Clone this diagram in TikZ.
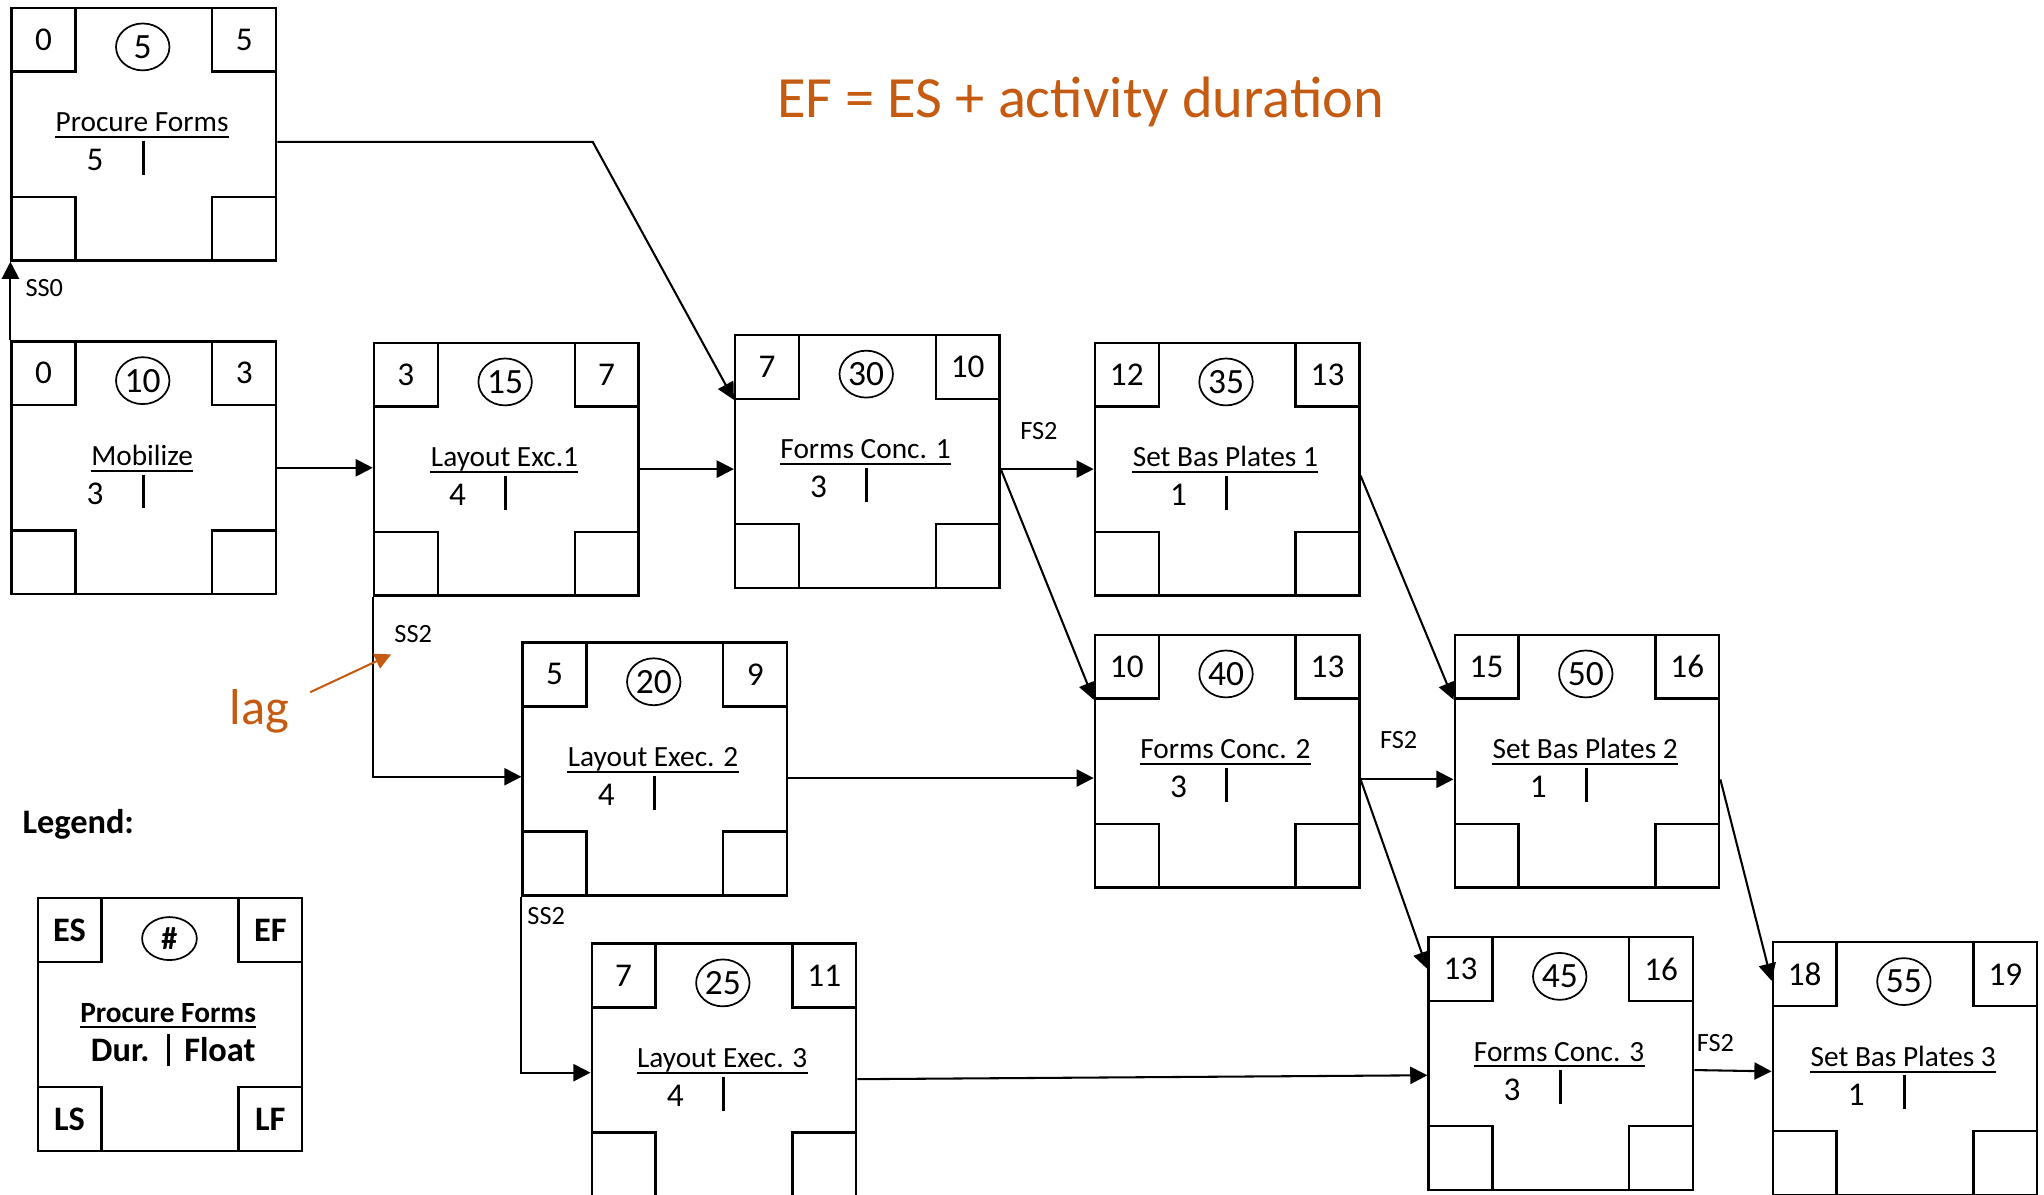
\documentclass[tikz,border=0pt]{standalone}
\usepackage{fontspec}
\setmainfont{Carlito}
\usetikzlibrary{calc,arrows.meta,shapes.geometric}
\definecolor{accent}{RGB}{197,90,17}
\newcommand\cpmCornerFont{\fontsize{14.5}{17}\selectfont}
\newcommand\cpmNumFont{\fontsize{15.5}{18}\selectfont}
\newcommand\cpmTitleFont{\fontsize{12.8}{15}\selectfont}
\newcommand\cpmDurFont{\fontsize{14.5}{17}\selectfont}
\newcommand\cpmLblFont{\fontsize{11.5}{14}\selectfont}
\newcommand\cpmLegFont{\bfseries\fontsize{15}{18}\selectfont}
\tikzset{
  actframe/.style={draw, line width=1pt, minimum width=4.06cm, minimum height=3.88cm, inner sep=0pt},
  cornerbox/.style={draw, line width=1pt, minimum size=0.98cm, inner sep=0pt, font=\cpmCornerFont},
  numcirc/.style={draw, ellipse, line width=0.75pt, minimum width=0.82cm, minimum height=0.72cm, inner sep=0pt, font=\cpmNumFont},
  titletext/.style={inner sep=0pt, anchor=base, font=\cpmTitleFont},
  ulinestyle/.style={line width=0.85pt},
  durtext/.style={inner sep=0pt, anchor=base, font=\cpmDurFont},
  durbar/.style={line width=1.4pt},
  conn/.style={line width=0.9pt, -{Triangle[length=7.5pt,width=7.5pt]}},
  lbl/.style={inner sep=0pt, font=\cpmLblFont},
  lagarrow/.style={draw=accent, line width=0.9pt, -{Triangle[length=7pt,width=7pt]}},
}
% name, x, y, ES, number, EF, title, duration
\newcommand{\actbox}[8]{%
  \node[actframe, anchor=north west] (#1) at (#2,#3) {};
  \node[cornerbox, anchor=north west] (#1-es) at (#1.north west) {#4};
  \node[cornerbox, anchor=north east] (#1-ef) at (#1.north east) {#6};
  \node[cornerbox, anchor=south west] (#1-ls) at (#1.south west) {};
  \node[cornerbox, anchor=south east] (#1-lf) at (#1.south east) {};
  \node[numcirc] (#1-num) at ($(#1.north west)+(101.5,31)$) {#5};
  \node[titletext] (#1-title) at ($(#1.north west)+(101,96)$) {#7};
  \draw[ulinestyle] ($(#1-title.base west)+(0,4)$) -- ($(#1-title.base east)+(0,4)$);
  \node[durtext] (#1-dur) at ($(#1.north west)+(65,126)$) {#8};
  \draw[durbar] ($(#1.north west)+(102,103)$) -- ($(#1.north west)+(102,129)$);
}
\begin{document}
\begin{tikzpicture}[x=0.02cm, y=-0.02cm]
\useasboundingbox (0,0) rectangle (1568,916);
\clip (0,0) rectangle (1568,916);

% activity boxes
\actbox{pf}{8}{5}{0}{5}{5}{Procure Forms}{5}
\actbox{mob}{8}{261}{0}{10}{3}{Mobilize}{3}
\actbox{lone}{286}{262}{3}{15}{7}{Layout Exc.1}{4}
\actbox{ltwo}{400}{492}{5}{20}{9}{Layout Exec. 2}{4}
\actbox{lthree}{453}{723}{7}{25}{11}{Layout Exec. 3}{4}
\actbox{fcone}{563}{256}{7}{30}{10}{Forms Conc. 1}{3}
\actbox{fctwo}{839}{486}{10}{40}{13}{Forms Conc. 2}{3}
\actbox{fcthree}{1095}{718}{13}{45}{16}{Forms Conc. 3}{3}
\actbox{sbone}{839}{262}{12}{35}{13}{Set Bas Plates 1}{1}
\actbox{sbtwo}{1115}{486}{15}{50}{16}{Set Bas Plates 2}{1}
\actbox{sbthree}{1359}{722}{18}{55}{19}{Set Bas Plates 3}{1}

% connectors
\draw[conn] (mob.north west) -- (pf.south west);
\draw[conn] ($(pf.east)+(0,6)$) -- ++(242,0) -- (fcone-es.south west);
\draw[conn] (mob.east) -- (mob.east -| lone.west);
\draw[conn] (lone.east) -- (lone.east -| fcone.west);
\draw[conn] (lone.south west) |- ($(ltwo.west)+(0,6)$);
\draw[conn] ($(ltwo.east)+(0,7)$) -- ($(fctwo.west)+(0,13)$);
\draw[conn] (ltwo.south west) |- ($(lthree.west)+(0,2)$);
\draw[conn] ($(lthree.east)+(0,7)$) -- ($(fcthree.west)+(0,9)$);
\draw[conn] ($(fcone.east)+(0,6)$) -- (sbone.west);
\draw[conn] ($(fcone.east)+(0,6)$) -- (fctwo-es.south west);
\draw[conn] ($(sbone.east)+(0,5)$) -- (sbtwo-es.south west);
\draw[conn] ($(fctwo.east)+(0,14)$) -- ($(sbtwo.west)+(0,14)$);
\draw[conn] ($(fctwo.east)+(0,14)$) -- (fcthree-es.west);
\draw[conn] ($(sbtwo.east)+(0,14)$) -- ($(sbthree-es.west)+(0,5)$);
\draw[conn] ($(fcthree.east)+(0,5)$) -- ($(sbthree.west)+(0,2)$);

% connector labels
\node[lbl] (lss0) at (34,221) {SS0};
\node[lbl] (lssa) at (317,486) {SS2};
\node[lbl] (lssb) at (419,703) {SS2};
\node[lbl] (lfsa) at (797,331) {FS2};
\node[lbl] (lfsb) at (1073,568) {FS2};
\node[lbl] (lfsc) at (1316,800) {FS2};

% annotations
\node[inner sep=0pt, text=accent, font=\fontsize{25.5}{30}\selectfont] (eqn) at (829,78) {EF = ES + activity duration};
\node[inner sep=0pt, text=accent, font=\fontsize{22}{26}\selectfont] (lag) at (199,546) {lag};
\coordinate (lagfrom) at (238,531);
\coordinate (lagtip) at (300,502);
\draw[lagarrow] (lagfrom) -- (lagtip);

% legend
\node[inner sep=0pt, font=\cpmLegFont] (legtitle) at (60,632) {Legend:};
\node[actframe, anchor=north west] (leg) at (28,688) {};
\node[cornerbox, anchor=north west, font=\cpmLegFont] (leg-es) at (leg.north west) {ES};
\node[cornerbox, anchor=north east, font=\cpmLegFont] (leg-ef) at (leg.north east) {EF};
\node[cornerbox, anchor=south west, font=\cpmLegFont] (leg-ls) at (leg.south west) {LS};
\node[cornerbox, anchor=south east, font=\cpmLegFont] (leg-lf) at (leg.south east) {LF};
\node[numcirc, minimum width=0.84cm, minimum height=0.66cm, font=\bfseries\fontsize{14}{17}\selectfont] (leg-num) at ($(leg.north west)+(102,32)$) {\#};
\node[titletext, font=\bfseries\fontsize{12.8}{15}\selectfont] (leg-title) at ($(leg.north west)+(101,96)$) {Procure Forms};
\draw[ulinestyle] ($(leg-title.base west)+(0,4)$) -- ($(leg-title.base east)+(0,4)$);
\node[durtext, anchor=base east, font=\cpmLegFont] (leg-dur) at ($(leg.north west)+(87,126)$) {Dur.};
\node[durtext, anchor=base west, font=\cpmLegFont] (leg-float) at ($(leg.north west)+(113,126)$) {Float};
\draw[durbar] ($(leg.north west)+(101.5,105)$) -- ($(leg.north west)+(101.5,130)$);
\end{tikzpicture}
\end{document}
